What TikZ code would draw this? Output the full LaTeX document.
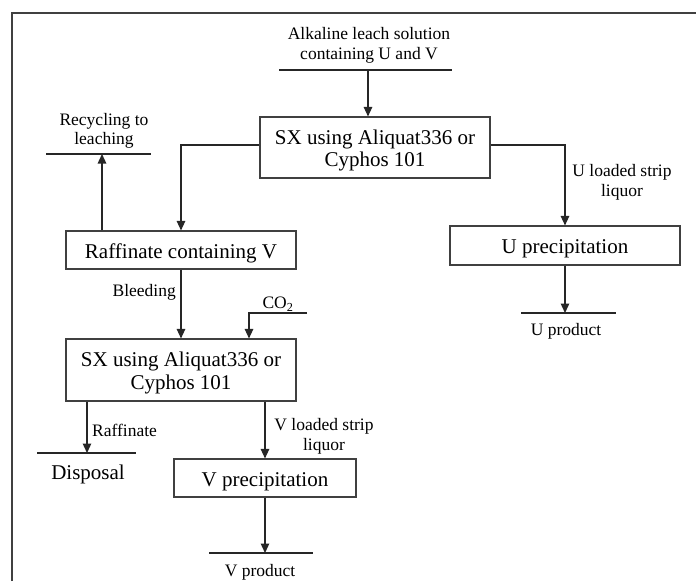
\documentclass[tikz,border=0pt]{standalone}
\usepackage{fontspec}
\setmainfont{Liberation Serif}
\usetikzlibrary{arrows.meta}
\newcommand\mylowtext[1]{\raisebox{-3.5pt}[\height][\depth]{\begin{tabular}{@{}c@{}}#1\end{tabular}}}
\begin{document}
\begin{tikzpicture}[x=1pt,y=-1pt,
  smalltxt/.style={font=\fontsize{17.5}{19.5}\selectfont, inner sep=0pt, align=center},
  bigtxt/.style={font=\fontsize{21}{22.5}\selectfont, inner sep=0pt, align=center},
  procbox/.style={draw=black!75, line width=1.1pt, font=\fontsize{21}{22.5}\selectfont, inner sep=0pt},
  conn/.style={draw=black!85, line width=1.3pt},
  arr/.style={conn, -{Triangle[length=9.5pt,width=8.5pt]}},
  uline/.style={draw=black!85, line width=1.2pt},
  frameline/.style={draw=black!75, line width=2pt}
]
\useasboundingbox (0,0) rectangle (696,581);
\draw[frameline] (12,581) -- (12,13) -- (696,13);

% feed
\node[smalltxt, font=\fontsize{17.5}{20}\selectfont] (feed) at (369,45.5) {Alkaline leach solution\\containing U and V};
\coordinate (feedL) at (279,70);
\coordinate (feedR) at (452,70);
\coordinate (feedA) at (368,70);
\draw[uline] (feedL) -- (feedR);

% first SX
\node[procbox, minimum width=230, minimum height=61] (sx1) at (375,147.5) {\mylowtext{SX using Aliquat336 or\\Cyphos 101}};
\draw[arr] (feedA) -- (feedA |- sx1.north);

% raffinate
\node[procbox, minimum width=230, minimum height=38] (raff) at (181,250) {\mylowtext{Raffinate containing V}};
\draw[arr] ([yshift=2.5pt]sx1.west) -| (raff.north);

% U branch
\node[procbox, minimum width=230, minimum height=39] (uprec) at (565,245.5) {\mylowtext{U precipitation}};
\draw[arr] ([yshift=2.5pt]sx1.east) -| (uprec.north);
\node[smalltxt] (ulab) at (622,182.5) {U loaded strip\\liquor};
\coordinate (uprodL) at (521,313);
\coordinate (uprodR) at (616,313);
\coordinate (uprodA) at (565,313);
\draw[uline] (uprodL) -- (uprodR);
\draw[arr] (uprec.south) -- (uprodA);
\node[smalltxt] (uprod) at (566,331) {U product};

% recycling
\node[smalltxt] (recyc) at (104,131) {Recycling to\\leaching};
\coordinate (recL) at (46,154);
\coordinate (recR) at (151,154);
\coordinate (recA) at (102,154);
\draw[uline] (recL) -- (recR);
\draw[arr] (raff.north -| recA) -- (recA);

% second SX
\node[procbox, minimum width=230, minimum height=62] (sx2) at (181,370) {\mylowtext{SX using Aliquat336 or\\Cyphos 101}};
\draw[arr] (raff.south) -- (sx2.north);
\node[smalltxt, anchor=east] (bleed) at (176,292) {Bleeding};

% CO2
\node[smalltxt] (co2) at (278,304) {CO\textsubscript{2}};
\coordinate (co2R) at (307,313);
\coordinate (co2C) at (249,313);
\draw[arr] (co2R) -- (co2C) -- (co2C |- sx2.north);

% disposal
\coordinate (dispL) at (37,453);
\coordinate (dispR) at (136,453);
\coordinate (dispA) at (87,453);
\draw[uline] (dispL) -- (dispR);
\draw[arr] (dispA |- sx2.south) -- (dispA);
\node[smalltxt, anchor=west] (rafflab) at (92,430) {Raffinate};
\node[bigtxt] (disp) at (88,474) {Disposal};

% V branch
\node[procbox, minimum width=182, minimum height=38] (vprec) at (265,478) {\mylowtext{V precipitation}};
\draw[arr] (vprec.north |- sx2.south) -- (vprec.north);
\node[smalltxt] (vlab) at (324,436.5) {V loaded strip\\liquor};
\coordinate (vprodL) at (209,553);
\coordinate (vprodR) at (313,553);
\coordinate (vprodA) at (265,553);
\draw[uline] (vprodL) -- (vprodR);
\draw[arr] (vprec.south) -- (vprodA);
\node[smalltxt] (vprod) at (260,572) {V product};
\end{tikzpicture}
\end{document}
